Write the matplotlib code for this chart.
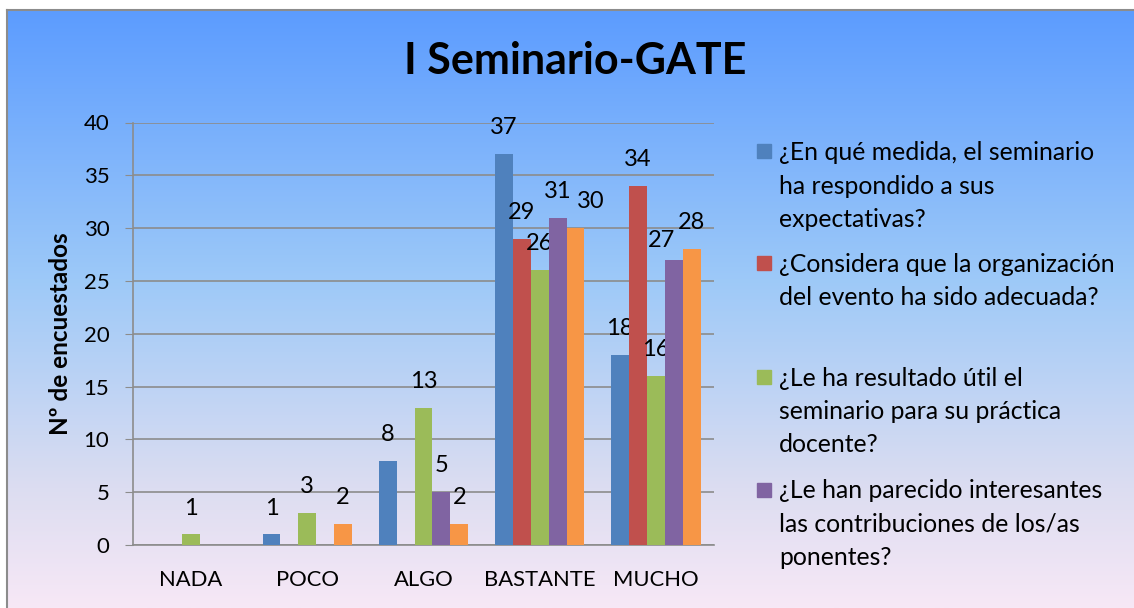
import numpy as np
import matplotlib
matplotlib.use("Agg")
import matplotlib.pyplot as plt
from matplotlib.colors import LinearSegmentedColormap
from matplotlib.patches import Rectangle

plt.rcParams['font.family'] = ['Lato', 'DejaVu Sans']

categories = ["NADA", "POCO", "ALGO", "BASTANTE", "MUCHO"]
q1 = [0, 1, 8, 37, 18]
q2 = [0, 0, 0, 29, 34]
q3 = [1, 3, 13, 26, 16]
q4 = [0, 0, 5, 31, 27]
q5 = [0, 2, 2, 30, 28]
series = [q1, q2, q3, q4, q5]
colors = ["#4F81BD", "#C0504D", "#9BBB59", "#8064A2", "#F79646"]
legend_labels = [
    "¿En qué medida, el seminario\nha respondido a sus\nexpectativas?",
    "¿Considera que la organización\ndel evento ha sido adecuada?",
    "¿Le ha resultado útil el\nseminario para su práctica\ndocente?",
    "¿Le han parecido interesantes\nlas contribuciones de los/as\nponentes?",
]
yticks = [0, 5, 10, 15, 20, 25, 30, 35, 40]

# labels that Excel nudged sideways (series, category) -> offset in points
label_nudge = {(4, 3): (11, 0), (3, 4): (-9, -5)}

W, H = 1134, 608
fig = plt.figure(figsize=(W / 100, H / 100), dpi=100, facecolor="white")

# background gradient
bg = fig.add_axes([7 / W, 0, 1 - 7 / W, (H - 10) / H])
cmap = LinearSegmentedColormap.from_list(
    "bg", [(0, "#5C9CFF"), (0.45, "#9DC9F8"), (0.8, "#DCDDF1"), (1.0, "#F7E8F6")])
grad = np.linspace(0, 1, 256).reshape(-1, 1)
bg.imshow(grad, aspect="auto", cmap=cmap, extent=[0, 1, 0, 1], origin="upper")
bg.set_xticks([])
bg.set_yticks([])
for s in bg.spines.values():
    s.set_color("#8C8C8C")
    s.set_linewidth(1.5)
bg.spines["bottom"].set_visible(False)
bg.spines["right"].set_visible(False)

ax = fig.add_axes([133 / W, (H - 545) / H, (714 - 133) / W, (545 - 122.5) / H])
ax.patch.set_alpha(0)

x = np.arange(len(categories))
bw = 0.154
for i, (vals, c) in enumerate(zip(series, colors)):
    pos = x + (i - 2) * bw
    ax.bar(pos, vals, bw, color=c, zorder=3)
    for j, (p, v) in enumerate(zip(pos, vals)):
        if v > 0:
            dx, dy = label_nudge.get((i, j), (0, 0))
            ax.annotate(str(v), (p, v), xytext=(dx, 19 + dy), textcoords="offset points",
                        ha="center", va="center", fontsize=17, color="black")

ax.set_xlim(-0.5, 4.5)
ax.set_ylim(0, 40)
ax.set_yticks(yticks)
ax.set_xticks(x)
ax.set_xticklabels(categories, fontsize=15.8)
ax.tick_params(axis="x", length=0, pad=18)
ax.tick_params(axis="y", labelsize=16, length=6, color="#8C8C8C", pad=11)
ax.yaxis.grid(True, color="#8C8C8C", linewidth=1.2, zorder=0)
ax.set_axisbelow(True)
for s in ["top", "right"]:
    ax.spines[s].set_visible(False)
for s in ["left", "bottom"]:
    ax.spines[s].set_color("#8C8C8C")
    ax.spines[s].set_linewidth(1.2)
ax.set_ylabel("Nº de encuestados", fontsize=17.5, fontweight="bold")
ax.yaxis.set_label_coords(-0.105, 0.5)

fig.text(575 / W, 1 - 61 / H, "I Seminario-GATE", ha="center", va="center",
         fontsize=31, fontweight="bold")

# legend
tops = [141.5, 252.5, 366.5, 479.5]
centers = [151, 263, 377, 490]
for lab, c, t, m in zip(legend_labels, colors, tops, centers):
    fig.patches.append(Rectangle((757 / W, 1 - (m + 7) / H), 14 / W, 14 / H,
                                 transform=fig.transFigure, color=c))
    fig.text(779 / W, 1 - t / H, lab, ha="left", va="top", fontsize=17.8,
             linespacing=1.55)

fig.savefig("out.png", dpi=100)
